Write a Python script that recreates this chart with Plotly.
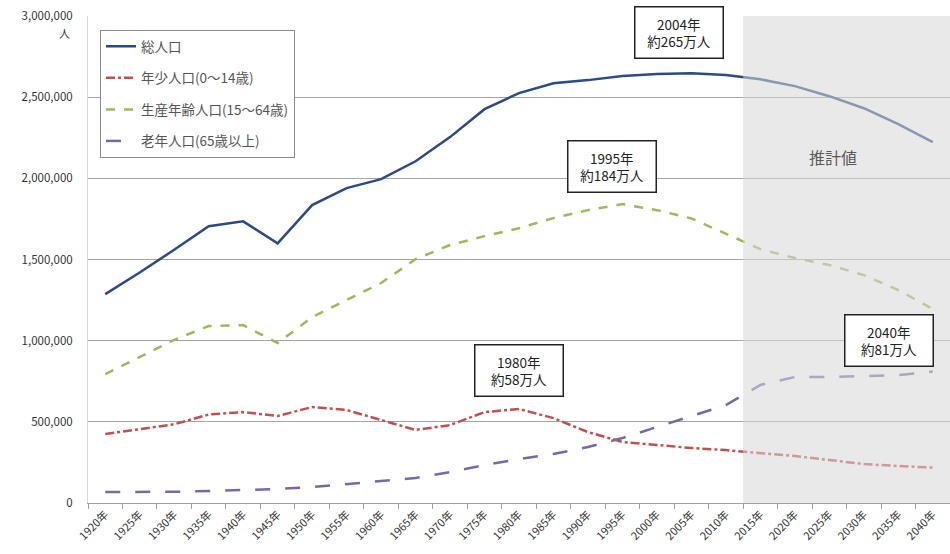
import plotly.graph_objects as go

# Census years and projections
years = ["1920年", "1925年", "1930年", "1935年", "1940年", "1945年", "1950年", "1955年",
         "1960年", "1965年", "1970年", "1975年", "1980年", "1985年", "1990年", "1995年",
         "2000年", "2005年", "2010年", "2015年", "2020年", "2025年", "2030年", "2035年", "2040年"]

total = [1287000, 1420000, 1560000, 1705000, 1735000, 1600000, 1835000, 1940000,
         1995000, 2105000, 2254000, 2426000, 2525000, 2586000, 2605000, 2630000,
         2642000, 2648000, 2636000, 2610000, 2568000, 2506000, 2432000, 2334000, 2223000]

children = [425000, 455000, 485000, 545000, 560000, 536000, 591000, 573000,
            511000, 450000, 480000, 560000, 579000, 523000, 437000, 376000,
            357000, 339000, 326000, 308000, 289000, 265000, 240000, 228000, 218000]

working = [794000, 900000, 1005000, 1090000, 1096000, 985000, 1145000, 1250000,
           1355000, 1502000, 1589000, 1644000, 1693000, 1755000, 1804000, 1841000,
           1804000, 1753000, 1656000, 1564000, 1509000, 1466000, 1404000, 1312000, 1195000]

elderly = [68000, 68000, 69000, 74000, 80000, 86000, 98000, 116000,
           135000, 154000, 190000, 234000, 271000, 302000, 345000, 400000,
           468000, 536000, 603000, 727000, 776000, 776000, 782000, 788000, 810000]

series_names = ["総人口", "年少人口(0～14歳)", "生産年齢人口(15～64歳)", "老年人口(65歳以上)"]

y_ticks = [0, 500000, 1000000, 1500000, 2000000, 2500000, 3000000]

FONT = "Noto Sans CJK JP"

fig = go.Figure()

styles = [
    (total, "#2b4a86", "solid", 2.5),
    (children, "#c0504d", "dashdot", 2.5),
    (working, "#9bbb59", "dash", 2.5),
    (elderly, "#7a68a6", "longdash", 2.5),
]
for i, (vals, color, dash, w) in enumerate(styles):
    fig.add_trace(go.Scatter(
        x=years, y=vals, mode="lines", name=series_names[i],
        legendgroup=f"g{i}",
        line=dict(color=color, dash=dash, width=w),
    ))

# Projection period shading (2015 onwards)
fig.add_shape(type="rect", xref="x", yref="y", x0=18.5, x1=24.5, y0=0, y1=3000000,
              fillcolor="rgba(215,215,215,0.55)", line=dict(width=0), layer="above")


def px_x(px):
    return (px - 88) / 862


def px_y(py):
    return (503 - py) / 487


fig.add_annotation(xref="paper", yref="paper", x=px_x(833), y=px_y(157),
                   xanchor="center", yanchor="middle",
                   text="推計値", showarrow=False,
                   font=dict(family=FONT, size=16, color="#595959"))


def callout(px, py, text):
    fig.add_annotation(xref="paper", yref="paper",
                       x=px_x(px), y=px_y(py), xanchor="center", yanchor="middle",
                       text=text, showarrow=False, align="center",
                       width=85, height=48, borderpad=1,
                       bgcolor="white", bordercolor="#222222", borderwidth=1.5,
                       font=dict(family=FONT, size=13.5, color="#222222"))


callout(679, 32, "2004年<br>約265万人")
callout(612, 166, "1995年<br>約184万人")
callout(519, 370, "1980年<br>約58万人")
callout(889, 340, "2040年<br>約81万人")

# Unit label under the top tick
fig.add_annotation(xref="paper", yref="paper", x=px_x(64), y=px_y(33),
                   xanchor="center", yanchor="middle",
                   text="人", showarrow=False,
                   font=dict(family=FONT, size=11, color="#333333"))

fig.update_layout(
    width=950, height=554,
    margin=dict(l=88, r=0, t=16, b=51),
    paper_bgcolor="white", plot_bgcolor="white",
    font=dict(family=FONT, size=11, color="#333333"),
    showlegend=True,
    legend=dict(
        x=px_x(100), y=px_y(30), xanchor="left", yanchor="top",
        bgcolor="white", bordercolor="#8c8c8c", borderwidth=1,
        font=dict(family=FONT, size=13.5, color="#555555"),
        traceorder="grouped", tracegroupgap=11,
    ),
    xaxis=dict(
        type="category", tickangle=-45, tickson="boundaries",
        ticks="outside", ticklen=5, tickcolor="#a0a0a0",
        showline=True, linecolor="#a0a0a0", linewidth=1,
        showgrid=False, range=[-0.5, 24.5],
        tickfont=dict(family=FONT, size=11, color="#333333"),
    ),
    yaxis=dict(
        range=[0, 3000000], tickvals=y_ticks, tickformat=",d",
        showgrid=True, gridcolor="#a6a6a6", gridwidth=1,
        showline=True, linecolor="#d9d9d9", linewidth=1,
        zeroline=False, ticks="", ticklen=0, ticklabelstandoff=12,
        tickfont=dict(family=FONT, size=11.5, color="#333333"),
    ),
)

fig.write_html("out.html")
